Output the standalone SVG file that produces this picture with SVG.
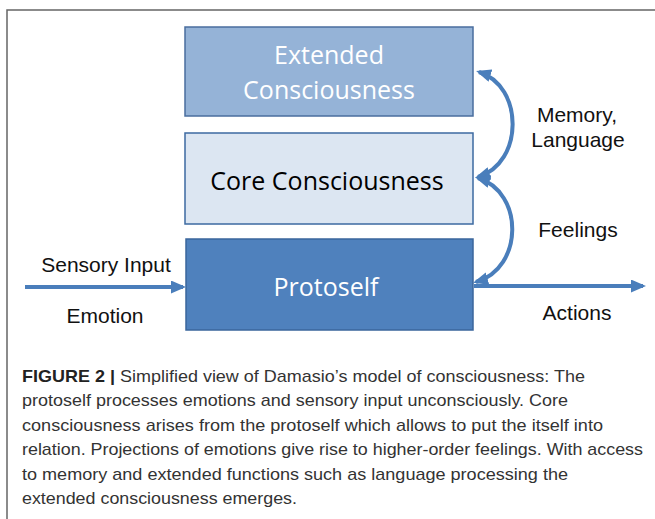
<svg xmlns="http://www.w3.org/2000/svg" width="655" height="519" viewBox="0 0 655 519">
<defs>
<style>
.box{stroke-width:1.5}
.bt{font-family:"Open Sans","Noto Sans",sans-serif;font-size:25px;text-anchor:middle}
.lbl{font-family:"Liberation Sans",Arial,sans-serif;font-size:21px;fill:#111;text-anchor:middle}
.cap{font-family:"Liberation Sans",Arial,sans-serif;font-size:17px;fill:#333}
.conn{fill:none;stroke:#4a7ebb;stroke-width:4}
</style>
<marker id="ah" markerUnits="userSpaceOnUse" markerWidth="15" markerHeight="13" refX="12" refY="6.5" orient="auto-start-reverse" viewBox="0 0 15 13">
<path d="M0,0 L15,6.5 L0,13 z" fill="#4a7ebb"/>
</marker>
</defs>
<rect width="655" height="519" fill="#fff"/>
<path d="M7,519 V10 H655" fill="none" stroke="#666" stroke-width="1.5"/>

<g id="extended">
<rect class="box" x="185" y="27" width="288" height="89" fill="#95b3d7" stroke="#4a6e9e"/>
<text class="bt" x="329" y="64" fill="#fff">Extended</text>
<text class="bt" x="329" y="99" fill="#fff">Consciousness</text>
</g>
<g id="core">
<rect class="box" x="185" y="133" width="288" height="91" fill="#dce6f2" stroke="#3d6aa1"/>
<text class="bt" x="327" y="190" fill="#000">Core Consciousness</text>
</g>
<g id="protoself">
<rect class="box" x="186" y="239" width="287" height="91" fill="#4f81bd" stroke="#3a669c"/>
<text class="bt" x="326" y="296" fill="#fff">Protoself</text>
</g>

<g id="connectors">
<path class="conn" d="M25,287 H183" marker-end="url(#ah)"/>
<path class="conn" d="M474,286 H643" marker-end="url(#ah)"/>
<path class="conn" d="M478,177 C524,163 524,86 479,72" marker-start="url(#ah)" marker-end="url(#ah)"/>
<path class="conn" d="M476,282 C524,268 524,192 478,178" marker-start="url(#ah)" marker-end="url(#ah)"/>
</g>

<g id="labels">
<text class="lbl" x="106" y="272">Sensory Input</text>
<text class="lbl" x="105" y="323">Emotion</text>
<text class="lbl" x="577" y="122">Memory,</text>
<text class="lbl" x="578" y="147">Language</text>
<text class="lbl" x="578" y="237">Feelings</text>
<text class="lbl" x="577" y="320">Actions</text>
</g>

<g id="caption">
<text class="cap" x="22" y="382" textLength="563" lengthAdjust="spacingAndGlyphs"><tspan font-weight="bold" fill="#222">FIGURE 2 |</tspan> Simplified view of Damasio’s model of consciousness: The</text>
<text class="cap" x="22" y="406" textLength="546" lengthAdjust="spacingAndGlyphs">protoself processes emotions and sensory input unconsciously. Core</text>
<text class="cap" x="22" y="431" textLength="581" lengthAdjust="spacingAndGlyphs">consciousness arises from the protoself which allows to put the itself into</text>
<text class="cap" x="22" y="455" textLength="621" lengthAdjust="spacingAndGlyphs">relation. Projections of emotions give rise to higher-order feelings. With access</text>
<text class="cap" x="22" y="480" textLength="546" lengthAdjust="spacingAndGlyphs">to memory and extended functions such as language processing the</text>
<text class="cap" x="22" y="504" textLength="275" lengthAdjust="spacingAndGlyphs">extended consciousness emerges.</text>
</g>
</svg>
